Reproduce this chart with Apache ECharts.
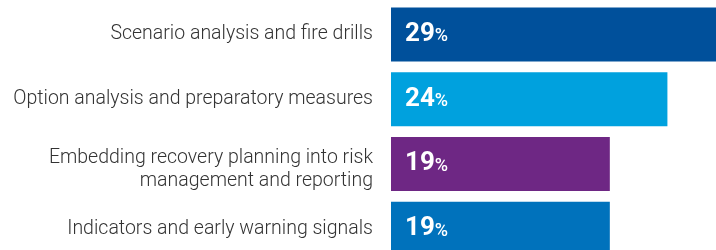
<!DOCTYPE html>
<html>
<head>
<meta charset="utf-8">
<script src="https://cdn.jsdelivr.net/npm/echarts@6/dist/echarts.min.js"></script>
<style>
  html, body { margin: 0; padding: 0; background: #fff; }
  #chart { width: 716px; height: 250px; }
</style>
</head>
<body>
<div id="chart"></div>
<script>
var categories = [
    'Scenario analysis and fire drills',
    'Option analysis and preparatory measures',
    'Embedding recovery planning into risk\nmanagement and reporting',
    'Indicators and early warning signals'
];
var values = [29, 24, 19, 19];
var barColors = ['#00509b', '#00a1de', '#6e2784', '#0072bc'];

var myChart = echarts.init(document.getElementById('chart'));

myChart.setOption({
    animation: false,
    grid: { left: 391, top: 2, width: 334, height: 259, outerBoundsMode: 'none' },
    xAxis: {
        type: 'value',
        min: 0,
        max: 29,
        show: false
    },
    yAxis: {
        type: 'category',
        data: categories,
        inverse: true,
        axisLine: { show: false },
        axisTick: { show: false },
        axisLabel: {
            margin: 18,
            color: '#333',
            fontFamily: 'Roboto',
            fontWeight: 300,
            fontSize: 19.5,
            lineHeight: 23,
            align: 'right',
            // two-line label sits a bit lower in the original: push it down with an empty spacer line
            formatter: function (v) {
                return v.indexOf('\n') > -1 ? '{s| }\n' + v : v;
            },
            rich: {
                s: { fontSize: 1, height: 11, lineHeight: 11 }
            }
        }
    },
    series: [{
        type: 'bar',
        barWidth: 54,
        data: values.map(function (v, i) {
            return { value: v, itemStyle: { color: barColors[i] } };
        }),
        label: {
            show: true,
            position: 'insideLeft',
            distance: 14,
            formatter: function (p) { return '{n|' + p.value + '}{p|%}'; },
            rich: {
                n: { color: '#fff', fontFamily: 'Roboto', fontWeight: 'bold', fontSize: 26 },
                p: { color: '#fff', fontFamily: 'Roboto', fontWeight: 500, fontSize: 18, padding: [5, 0, 0, 0] }
            }
        }
    }]
});
</script>
</body>
</html>
